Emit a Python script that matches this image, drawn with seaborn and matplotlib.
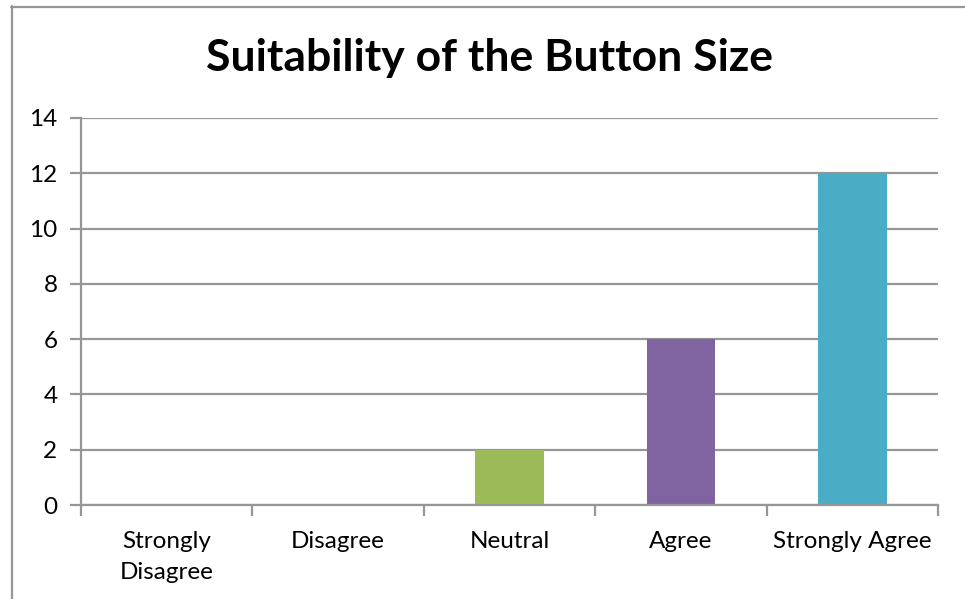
import matplotlib
matplotlib.use("Agg")
import matplotlib.pyplot as plt
import numpy as np
import pandas as pd
import seaborn as sns
from matplotlib.lines import Line2D

categories = ["Strongly\nDisagree", "Disagree", "Neutral", "Agree", "Strongly Agree"]
counts = [0, 0, 2, 6, 12]
colors = ["#4F81BD", "#C0504D", "#9BBB59", "#8064A2", "#4BACC6"]
y_ticks = [0, 2, 4, 6, 8, 10, 12, 14]

sns.set_theme(style="white")
plt.rcParams["font.family"] = ["Lato", "DejaVu Sans"]

df = pd.DataFrame({"category": categories, "count": counts})

W, H = 965, 599
fig = plt.figure(figsize=(W / 100, H / 100), dpi=100)
ax = fig.add_axes([81 / W, 1 - 505 / H, (938 - 81) / W, (505 - 118) / H])

sns.barplot(data=df, x="category", y="count", hue="category", palette=colors,
            width=0.4, legend=False, ax=ax, saturation=1, linewidth=0)

grid_col = "#969696"
ax.set_ylim(0, 14)
ax.set_xlim(-0.5, len(categories) - 0.5)
ax.set_yticks(y_ticks)
ax.yaxis.grid(True, color=grid_col, linewidth=1.6)
ax.set_axisbelow(True)
for s in ["top", "right"]:
    ax.spines[s].set_visible(False)
for s in ["left", "bottom"]:
    ax.spines[s].set_color(grid_col)
    ax.spines[s].set_linewidth(1.6)

ax.tick_params(axis="y", direction="out", length=8, width=1.6, color=grid_col,
               labelsize=17.5, labelcolor="black", pad=9, left=True)
ax.set_xticks(np.arange(len(categories)))
ax.set_xticklabels(categories, fontsize=17.5, color="black", linespacing=1.55)
ax.tick_params(axis="x", which="major", length=0, pad=19)
ax.set_xticks(np.arange(len(categories) + 1) - 0.5, minor=True)
ax.tick_params(axis="x", which="minor", direction="out", length=8, width=1.6,
               color=grid_col, bottom=True)
ax.set_xlabel("")
ax.set_ylabel("")

fig.text(489 / W, 1 - 58 / H, "Suitability of the Button Size", ha="center",
         va="center", fontsize=32, fontweight="bold", color="black")

# chart frame
fig.add_artist(Line2D([11.5 / W, 11.5 / W], [1 - 6 / H, 0], color=grid_col, lw=1.6))
fig.add_artist(Line2D([11 / W, 1], [1 - 6.5 / H, 1 - 6.5 / H], color=grid_col, lw=1.6))

fig.savefig("out.png", dpi=100, facecolor="white")
